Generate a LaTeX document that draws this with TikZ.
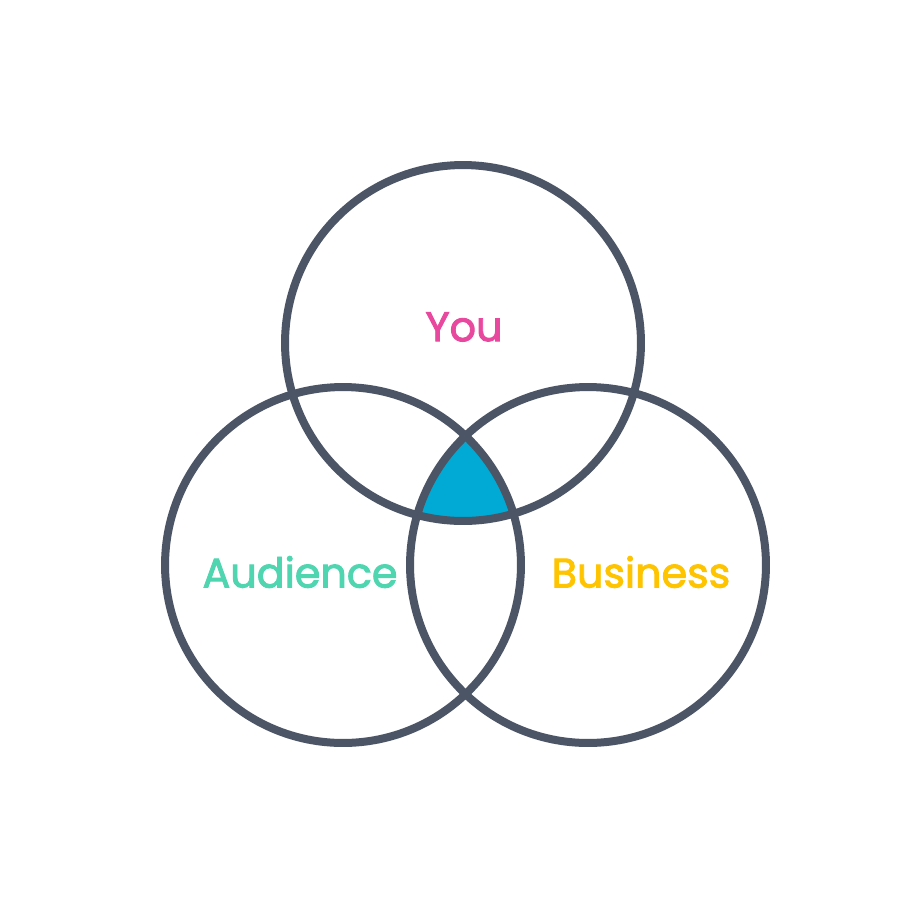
\documentclass[tikz,border=0pt]{standalone}
\usepackage{fontspec}
\setmainfont{Poppins}[FakeBold=2.2]
\usetikzlibrary{positioning}
\definecolor{ringgray}{HTML}{4B5566}
\definecolor{youpink}{HTML}{E8489E}
\definecolor{audteal}{HTML}{4FD6B0}
\definecolor{busyellow}{HTML}{FFC400}
\definecolor{coreblue}{HTML}{00AAD4}
\begin{document}
\begin{tikzpicture}[
    x=0.02cm, y=-0.02cm,
    ring/.style={draw=ringgray, line width=0.16cm, circle, minimum size=7.12cm, inner sep=0pt},
    lbl/.style={font=\fontsize{23.5pt}{28pt}\selectfont, inner sep=0pt},
  ]
  \useasboundingbox[fill=white] (0,0) rectangle (904,904);
  % shared core of the three sets
  \begin{scope}
    \clip (463,343) circle [radius=178];
    \clip (343,565) circle [radius=178];
    \fill[coreblue] (588,565) circle [radius=178];
  \end{scope}
  % rings
  \node[ring] (you) at (463,343) {};
  \node[ring] (aud) at (343,565) {};
  \node[ring] (bus) at (588,565) {};
  % labels
  \node[lbl, text=youpink] (you_lbl) at (464,327) {You};
  \node[lbl, text=audteal] (aud_lbl) at (300,572) {Audience};
  \node[lbl, text=busyellow] (bus_lbl) at (641,572) {Business};
\end{tikzpicture}
\end{document}
